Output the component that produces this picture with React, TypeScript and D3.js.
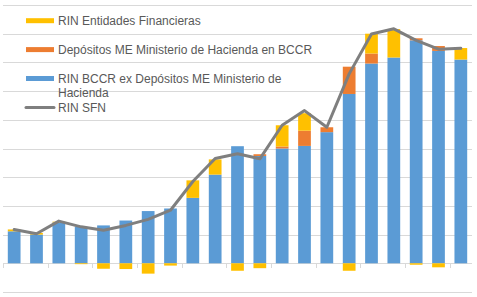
import * as d3 from 'd3'

// Millones de USD, 21 periodos (sin etiquetas en el eje)
const periods = d3.range(21).map((i) => `P${i + 1}`)

const rinBccr = [1115, 1000, 1420, 1270, 1320, 1490, 1820, 1910, 2280, 3090, 4080, 3740, 4000, 4090, 4570, 5900, 6960, 7170, 7770, 7400, 7100]
const depositosMH = [0, 0, 0, 0, 0, 0, 0, 0, 0, 0, 0, 60, 70, 530, 170, 950, 350, 0, 70, 170, 0]
const rinEntidades = [65, 60, 30, -30, -190, -200, -360, -80, 610, 530, -260, -170, 740, 610, 0, -260, 690, 990, -50, -140, 400]
const rinSfn = [1180, 1030, 1470, 1270, 1150, 1320, 1530, 1850, 2850, 3650, 3820, 3640, 4810, 5320, 4740, 6600, 7990, 8170, 7770, 7460, 7490]

const yTicks = d3.range(-1000, 9001, 1000)

const seriesKeys = ['bccr', 'mh', 'ef'] as const
const seriesColor: Record<string, string> = {
  bccr: '#5B9BD5',
  mh: '#ED7D31',
  ef: '#FFC000',
}

const legendItems = [
  { label: ['RIN Entidades Financieras'], color: '#FFC000', kind: 'bar' },
  { label: ['Depósitos ME Ministerio de Hacienda en BCCR'], color: '#ED7D31', kind: 'bar' },
  { label: ['RIN BCCR ex Depósitos ME Ministerio de', 'Hacienda'], color: '#5B9BD5', kind: 'bar' },
  { label: ['RIN SFN'], color: '#7F7F7F', kind: 'line' },
]

export default function App() {
  const width = 477
  const height = 297
  const plot = { left: 3, right: 472, top: 5, bottom: 292 }

  const x = d3
    .scaleBand<string>()
    .domain(periods)
    .range([plot.left, plot.right])
    .paddingInner(0.43)
    .paddingOuter(0.215)

  const y = d3.scaleLinear().domain([-1000, 9000]).range([plot.bottom, plot.top])

  const rows = periods.map((p, i) => ({
    period: p,
    bccr: rinBccr[i],
    mh: depositosMH[i],
    ef: rinEntidades[i],
  }))

  const stacked = d3
    .stack<any>()
    .keys(seriesKeys as unknown as string[])
    .offset(d3.stackOffsetDiverging)(rows)

  const line = d3
    .line<number>()
    .x((_, i) => (x(periods[i]) || 0) + x.bandwidth() / 2)
    .y((d) => y(d))

  const step = x.step()
  const tickXs = d3.range(0, periods.length + 1, 2).map((i) => plot.left + i * step)

  // legend rows sit on a fixed pitch, wrapped text just spills below
  const legendTop = 20.7
  const legendPitch = 28.9

  return (
    <svg
      width={width}
      height={height}
      style={{ position: 'absolute', left: 0, top: 0, display: 'block', background: '#fff' }}
      fontFamily="'Liberation Sans', Arial, sans-serif"
    >
      {/* Gridlines */}
      {yTicks.map((t) => (
        <line
          key={t}
          x1={plot.left}
          x2={plot.right}
          y1={Math.round(y(t)) + 0.5}
          y2={Math.round(y(t)) + 0.5}
          stroke="#D9D9D9"
          strokeWidth={1}
        />
      ))}
      {/* Category ticks on the zero line */}
      {tickXs.map((tx, i) => (
        <line
          key={i}
          x1={Math.round(tx) + 0.5}
          x2={Math.round(tx) + 0.5}
          y1={Math.round(y(0)) + 0.5}
          y2={Math.round(y(0)) + 5}
          stroke="#D9D9D9"
          strokeWidth={1}
        />
      ))}

      {/* Stacked bars */}
      {stacked.map((s) => (
        <g key={s.key} fill={seriesColor[s.key]}>
          {s.map((d, i) => {
            const y0 = y(d[0])
            const y1 = y(d[1])
            const h = Math.abs(y0 - y1)
            if (h < 0.01) return null
            return (
              <rect
                key={i}
                x={x(periods[i])}
                y={Math.min(y0, y1)}
                width={x.bandwidth()}
                height={h}
              />
            )
          })}
        </g>
      ))}

      {/* RIN SFN line */}
      <path
        d={line(rinSfn) || ''}
        fill="none"
        stroke="#7F7F7F"
        strokeWidth={3}
        strokeLinejoin="round"
        strokeLinecap="round"
      />

      {/* Legend */}
      {legendItems.map((item, i) => {
        const cy = legendTop + i * legendPitch
        return (
          <g key={i}>
            {item.kind === 'bar' ? (
              <rect x={26} y={cy - 2.5} width={28} height={5} fill={item.color} />
            ) : (
              <line x1={26} x2={54} y1={cy} y2={cy} stroke={item.color} strokeWidth={3} strokeLinecap="round" />
            )}
            {item.label.map((ln, j) => (
              <text key={j} x={58} y={cy + j * 14.3} dy="0.35em" fontSize={12} fill="#595959">
                {ln}
              </text>
            ))}
          </g>
        )
      })}
    </svg>
  )
}
